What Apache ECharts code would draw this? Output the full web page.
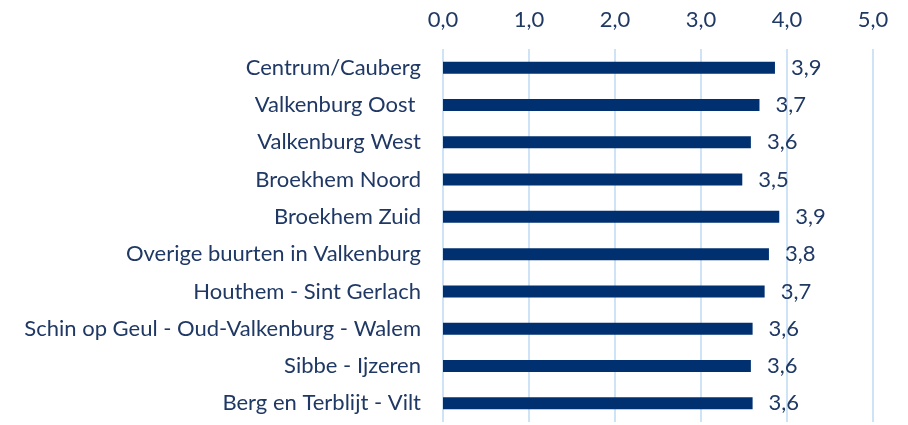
<!DOCTYPE html>
<html>
<head>
<meta charset="utf-8">
<script src="https://cdn.jsdelivr.net/npm/echarts@6/dist/echarts.min.js"></script>
<style>
  html, body { margin: 0; padding: 0; background: #fff; }
  #chart { width: 908px; height: 425px; }
</style>
</head>
<body>
<div id="chart"></div>
<script>
// Wijken (top to bottom)
const wijken = [
  'Centrum/Cauberg',
  'Valkenburg Oost ',
  'Valkenburg West',
  'Broekhem Noord',
  'Broekhem Zuid',
  'Overige buurten in Valkenburg',
  'Houthem - Sint Gerlach',
  'Schin op Geul - Oud-Valkenburg - Walem',
  'Sibbe - Ijzeren',
  'Berg en Terblijt - Vilt'
];
// Gemiddelde score per wijk
const scores = [3.86, 3.68, 3.58, 3.48, 3.91, 3.79, 3.74, 3.60, 3.58, 3.60];
// Schaal 0 - 5
const schaalMin = 0;
const schaalMax = 5;
const schaalStap = 1;

const tekstKleur = '#1F3864';
const balkKleur = '#003070';
const rasterKleur = '#CFE3F7';
const fam = 'Lato, "Open Sans", sans-serif';
const grootte = 22;

const nl1 = v => v.toFixed(1).replace('.', ',');

const chart = echarts.init(document.getElementById('chart'), null, { renderer: 'canvas' });
chart.setOption({
  animation: false,
  backgroundColor: '#ffffff',
  grid: { left: 443, right: 35, top: 49, bottom: 3, containLabel: false },
  xAxis: {
    type: 'value',
    position: 'top',
    min: schaalMin,
    max: schaalMax,
    interval: schaalStap,
    axisLine: { show: false },
    axisTick: { show: false },
    axisLabel: {
      color: tekstKleur, fontFamily: fam, fontSize: grootte, margin: 18,
      formatter: v => nl1(v)
    },
    splitLine: { show: true, lineStyle: { color: rasterKleur, width: 2 } }
  },
  yAxis: {
    type: 'category',
    inverse: true,
    data: wijken,
    axisLine: { show: false },
    axisTick: { show: false },
    axisLabel: { color: tekstKleur, fontFamily: fam, fontSize: grootte, margin: 22 }
  },
  series: [{
    type: 'bar',
    data: scores,
    barWidth: 12,
    itemStyle: { color: balkKleur },
    label: {
      show: true,
      position: 'right',
      distance: 16,
      color: tekstKleur,
      fontFamily: fam,
      fontSize: grootte,
      formatter: p => nl1(p.value)
    }
  }]
});
</script>
</body>
</html>
